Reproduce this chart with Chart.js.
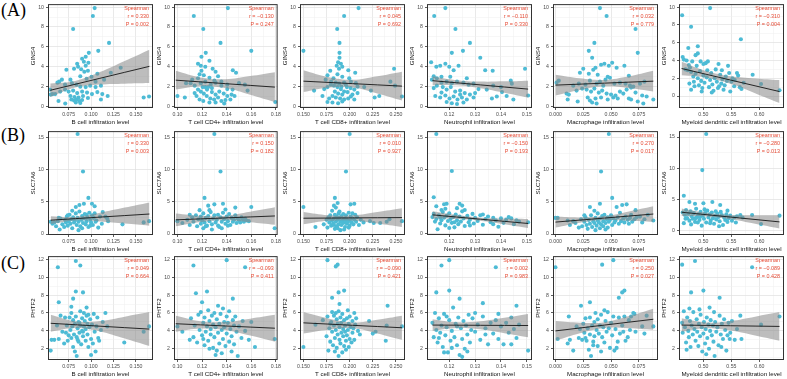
<!DOCTYPE html>
<html><head><meta charset="utf-8">
<script src="https://cdn.jsdelivr.net/npm/chart.js@4.4.1/dist/chart.umd.min.js"></script>
<style>
html,body{margin:0;padding:0;background:#fff}
#wrap{position:relative;width:787px;height:379px;overflow:hidden;background:#fff}
#wrap canvas{position:absolute}
.tag{position:absolute;font-family:"Liberation Serif","DejaVu Serif",serif;font-size:18px;color:#000;line-height:1}
</style></head><body>
<div id="wrap">
<div class="tag" style="left:1px;top:1px">(A)</div>
<div class="tag" style="left:1px;top:126px">(B)</div>
<div class="tag" style="left:1px;top:254px">(C)</div>
</div>
<script>
// ---------- categories / labels ----------
const genes = ['GINS4','SLC7A6','PHTF2'];
const cellTypes = ['B cell','T cell CD4+','T cell CD8+','Neutrophil','Macrophage','Myeloid dendritic cell'];
const method = 'Spearman';
const rGINS4  = ['0.330','\u22120.130','0.045','\u22120.110','0.032','\u22120.310'];
const pGINS4  = ['0.002','0.247','0.692','0.330','0.779','0.004'];
const rSLC7A6 = ['0.330','0.150','0.010','\u22120.150','0.270','\u22120.280'];
const pSLC7A6 = ['0.003','0.182','0.927','0.193','0.017','0.013'];
const rPHTF2  = ['0.049','\u22120.093','\u22120.090','0.002','0.250','\u22120.089'];
const pPHTF2  = ['0.664','0.411','0.421','0.983','0.027','0.428'];

// ---------- tick values ----------
const xMajorBcell = [0.075,0.100,0.125,0.150], xMinorBcell = [0.0625,0.0875,0.1125,0.1375,0.1625];
const xMajorCD4 = [0.10,0.12,0.14,0.16,0.18], xMinorCD4 = [0.11,0.13,0.15,0.17];
const xMajorCD8 = [0.150,0.175,0.200,0.225,0.250], xMinorCD8 = [0.1625,0.1875,0.2125,0.2375];
const xMajorNeut = [0.12,0.13,0.14,0.15], xMinorNeut = [0.115,0.125,0.135,0.145];
const xMajorMac = [0.000,0.025,0.050,0.075], xMinorMac = [0.0125,0.0375,0.0625,0.0875];
const xMajorMDC = [0.50,0.55,0.60], xMinorMDC = [0.475,0.525,0.575,0.625];
const yMajorGINS4 = [0,2,4,6,8,10], yMinorGINS4 = [-1,1,3,5,7,9];
const yMajorSLC7A6 = [0,5,10,15], yMinorSLC7A6 = [2.5,7.5,12.5];
const yMajorPHTF2 = [2,4,6,8,10,12], yMinorPHTF2 = [1,3,5,7,9,11];

// ---------- GINS4 points ----------
const gins4_bcell = [[0.104,9.9],[0.102,9.1],[0.080,7.8],[0.120,6.4],[0.108,5.6],[0.0975,5.4],[0.094,5.0],[0.090,4.8],[0.0845,4.3],[0.092,4.5],[0.097,4.4],[0.0855,4.0],[0.094,4.1],[0.0965,3.6],[0.089,3.75],[0.0925,3.5],[0.081,3.8],[0.0725,3.7],[0.122,3.4],[0.133,3.9],[0.107,3.3],[0.1005,3.0],[0.095,2.8],[0.088,3.05],[0.077,2.7],[0.0675,2.7],[0.0645,2.5],[0.0625,2.4],[0.071,2.2],[0.0787,2.35],[0.0837,2.2],[0.088,2.0],[0.094,1.95],[0.099,2.1],[0.105,1.95],[0.111,2.1],[0.0543,1.7],[0.055,1.2],[0.057,1.25],[0.060,1.25],[0.0656,1.5],[0.071,1.7],[0.075,1.5],[0.080,1.6],[0.0845,1.35],[0.090,1.5],[0.0955,1.4],[0.101,1.25],[0.107,1.45],[0.1125,1.25],[0.1185,1.05],[0.077,1.05],[0.0815,0.95],[0.086,0.9],[0.091,1.05],[0.0965,0.85],[0.078,0.7],[0.081,0.6],[0.084,0.7],[0.087,0.55],[0.090,0.65],[0.083,0.4],[0.088,0.35],[0.0712,0.3],[0.0637,0.55],[0.111,0.7],[0.1586,0.9],[0.1646,1.0],[0.105,2.5],[0.1145,2.7]];
const gins4_cd4 = [[0.1133,9.1],[0.141,9.9],[0.121,7.8],[0.135,6.4],[0.160,5.6],[0.123,5.4],[0.1195,5.0],[0.126,4.6],[0.1167,4.3],[0.119,4.1],[0.1226,4.0],[0.1286,3.8],[0.131,3.5],[0.145,3.65],[0.1476,3.4],[0.1195,3.6],[0.1214,3.15],[0.126,2.9],[0.1167,2.85],[0.112,2.7],[0.1107,2.35],[0.114,2.1],[0.119,2.35],[0.1226,1.95],[0.127,2.2],[0.131,2.4],[0.1357,2.5],[0.1405,2.2],[0.150,2.35],[0.1548,2.2],[0.157,1.6],[0.100,1.05],[0.106,0.9],[0.1155,1.05],[0.119,1.5],[0.1214,1.3],[0.124,1.7],[0.128,1.45],[0.131,1.2],[0.134,1.5],[0.1376,1.3],[0.1405,1.05],[0.144,1.2],[0.1238,1.05],[0.1267,0.8],[0.1298,0.7],[0.133,0.9],[0.1357,0.55],[0.139,0.65],[0.143,0.7],[0.131,0.4],[0.138,0.3],[0.121,0.55],[0.125,1.95],[0.130,2.6],[0.1405,1.75],[0.1448,1.7],[0.1167,1.7],[0.114,1.35],[0.1226,2.5],[0.118,3.25],[0.1795,0.45],[0.1205,1.95],[0.128,1.85],[0.1357,2.1],[0.118,0.7],[0.126,0.4],[0.1464,1.05],[0.107,2.35],[0.133,3.05]];
const gins4_cd8 = [[0.2096,9.9],[0.194,9.1],[0.1865,7.8],[0.189,6.4],[0.150,5.6],[0.189,5.4],[0.189,4.9],[0.1875,4.45],[0.1905,4.3],[0.186,4.1],[0.192,4.0],[0.179,3.6],[0.1885,3.8],[0.1985,3.65],[0.176,3.15],[0.206,3.4],[0.1868,3.25],[0.192,3.0],[0.1995,2.85],[0.248,3.8],[0.244,2.5],[0.249,2.1],[0.2565,1.0],[0.232,1.05],[0.227,0.9],[0.223,1.6],[0.2157,1.95],[0.2085,2.0],[0.205,1.7],[0.201,1.85],[0.197,1.95],[0.194,1.5],[0.1905,1.75],[0.1868,1.95],[0.183,2.1],[0.1796,2.2],[0.176,1.95],[0.1725,1.75],[0.1615,1.6],[0.174,2.7],[0.180,2.5],[0.185,2.4],[0.1886,2.3],[0.194,2.4],[0.2013,2.5],[0.2067,2.35],[0.184,1.5],[0.1875,1.3],[0.192,1.2],[0.1977,1.45],[0.203,1.2],[0.2085,1.35],[0.1814,1.05],[0.185,0.9],[0.1897,0.8],[0.194,0.7],[0.1984,0.8],[0.1778,0.8],[0.176,0.45],[0.1814,0.4],[0.1875,0.33],[0.192,0.5],[0.2013,1.0],[0.205,0.7],[0.1706,1.05],[0.191,2.0],[0.1958,2.2],[0.1825,2.85]];
const gins4_neut = [[0.1185,9.9],[0.1142,9.1],[0.1224,7.8],[0.128,6.4],[0.1253,5.6],[0.121,5.4],[0.132,4.9],[0.113,4.45],[0.1165,4.1],[0.115,4.0],[0.1185,4.3],[0.120,4.0],[0.1217,3.65],[0.1236,4.1],[0.1339,3.65],[0.1368,3.6],[0.1493,3.8],[0.1438,2.6],[0.1442,2.3],[0.114,3.05],[0.1133,2.7],[0.1152,2.85],[0.117,3.0],[0.117,2.4],[0.119,2.5],[0.121,2.35],[0.123,2.5],[0.1255,2.4],[0.1275,2.2],[0.1294,2.3],[0.1313,1.75],[0.1345,1.7],[0.137,2.1],[0.140,1.95],[0.1404,1.45],[0.1384,1.0],[0.1422,1.05],[0.1448,0.7],[0.1505,1.1],[0.114,1.85],[0.1152,2.1],[0.1175,1.95],[0.119,1.7],[0.1206,1.95],[0.1223,1.5],[0.1242,1.6],[0.126,1.35],[0.128,1.2],[0.130,1.35],[0.1146,1.05],[0.1165,0.9],[0.1185,1.1],[0.1201,0.8],[0.1217,1.0],[0.1232,0.7],[0.1249,0.9],[0.1268,0.7],[0.1294,0.9],[0.119,0.45],[0.121,0.33],[0.123,0.25],[0.1255,0.4],[0.1365,0.8],[0.117,1.4],[0.1242,1.2],[0.1204,3.0],[0.1268,2.85]];
const gins4_mac = [[0.040,9.9],[0.046,9.1],[0.072,7.8],[0.035,6.4],[0.030,5.6],[0.074,5.4],[0.033,4.9],[0.022,3.4],[0.025,3.8],[0.034,3.7],[0.036,3.9],[0.041,4.2],[0.044,4.3],[0.048,4.1],[0.051,4.4],[0.055,3.9],[0.062,4.1],[0.066,3.1],[0.047,3.0],[0.049,2.9],[0.038,3.2],[0.030,3.3],[0.001,2.4],[0.003,2.6],[0.016,2.1],[0.021,2.3],[0.027,2.2],[0.031,2.6],[0.037,2.3],[0.040,2.5],[0.043,2.1],[0.053,2.3],[0.058,2.4],[0.063,2.3],[0.067,2.1],[0.070,2.0],[0.076,2.3],[0.080,2.5],[0.045,2.7],[0.010,1.3],[0.012,1.2],[0.019,1.6],[0.024,1.8],[0.028,1.7],[0.032,1.5],[0.035,1.8],[0.039,1.4],[0.042,1.6],[0.046,1.3],[0.050,1.2],[0.054,1.1],[0.058,1.5],[0.061,1.3],[0.064,1.7],[0.068,1.9],[0.072,1.4],[0.078,1.1],[0.082,1.0],[0.011,0.7],[0.020,0.5],[0.029,0.9],[0.031,0.6],[0.033,0.4],[0.036,0.8],[0.037,0.3],[0.041,0.9],[0.047,0.7],[0.052,0.9],[0.056,0.8],[0.066,0.8],[0.068,0.7],[0.079,0.3],[0.088,0.7],[0.074,0.5]];
const gins4_mdc = [[0.462,9.1],[0.512,9.9],[0.478,7.8],[0.567,6.4],[0.473,5.4],[0.490,5.6],[0.486,4.6],[0.463,4.4],[0.465,4.1],[0.468,3.0],[0.470,4.0],[0.472,2.9],[0.474,3.5],[0.476,3.2],[0.478,2.7],[0.480,3.9],[0.482,2.2],[0.475,1.4],[0.478,0.7],[0.483,1.6],[0.486,2.5],[0.488,3.4],[0.490,2.0],[0.492,1.2],[0.494,2.8],[0.496,1.7],[0.498,0.9],[0.500,2.3],[0.502,1.5],[0.504,3.7],[0.506,2.1],[0.508,3.9],[0.510,1.0],[0.512,1.8],[0.514,2.6],[0.516,1.3],[0.518,0.6],[0.520,2.0],[0.522,3.0],[0.524,1.6],[0.526,0.9],[0.528,1.1],[0.530,2.4],[0.532,1.4],[0.534,1.9],[0.536,0.7],[0.538,1.2],[0.540,2.2],[0.542,1.7],[0.544,3.4],[0.546,2.6],[0.548,0.5],[0.550,1.6],[0.552,2.0],[0.556,1.8],[0.560,2.6],[0.562,2.3],[0.565,1.0],[0.568,0.8],[0.572,1.5],[0.588,2.4],[0.603,1.35],[0.636,0.65],[0.490,4.8],[0.495,3.9],[0.500,3.6],[0.484,1.1],[0.497,0.5],[0.507,2.9],[0.527,3.6],[0.515,0.4],[0.533,2.9],[0.555,1.1]];

// ---------- SLC7A6 points ----------
const slc7a6_bcell = [[0.085,15.5],[0.091,9.7],[0.097,5.6],[0.092,4.7],[0.087,4.5],[0.101,4.7],[0.104,4.3],[0.083,4.2],[0.055,1.9],[0.057,1.6],[0.059,1.8],[0.061,1.2],[0.063,2.0],[0.064,2.5],[0.065,0.7],[0.066,2.4],[0.068,1.5],[0.070,1.1],[0.071,2.2],[0.072,1.8],[0.073,2.7],[0.074,1.3],[0.075,2.0],[0.076,3.0],[0.077,1.6],[0.078,2.3],[0.079,0.9],[0.080,2.6],[0.081,1.8],[0.082,2.1],[0.083,3.2],[0.084,1.4],[0.085,2.5],[0.086,1.9],[0.087,3.5],[0.088,1.2],[0.089,2.2],[0.090,2.8],[0.091,1.7],[0.092,2.4],[0.093,3.1],[0.094,1.5],[0.095,2.0],[0.096,2.6],[0.097,1.1],[0.098,3.3],[0.099,2.2],[0.100,1.8],[0.101,2.9],[0.102,1.4],[0.103,2.5],[0.104,3.2],[0.105,1.9],[0.106,2.1],[0.108,1.0],[0.110,2.7],[0.112,1.6],[0.113,3.4],[0.116,2.7],[0.118,2.4],[0.119,2.0],[0.135,1.5],[0.1586,1.8],[0.1646,2.0],[0.086,0.6],[0.090,0.9],[0.079,3.6],[0.095,3.0],[0.074,2.9],[0.099,1.3]];
const slc7a6_cd4 = [[0.130,15.5],[0.135,9.7],[0.122,5.6],[0.130,4.6],[0.137,4.7],[0.147,4.1],[0.160,4.2],[0.125,4.4],[0.118,3.7],[0.100,2.0],[0.104,1.7],[0.108,2.2],[0.110,1.4],[0.112,2.6],[0.113,1.9],[0.115,2.9],[0.116,1.2],[0.117,2.3],[0.119,1.6],[0.120,2.1],[0.121,3.2],[0.122,1.8],[0.123,2.5],[0.124,1.3],[0.125,2.8],[0.126,2.0],[0.127,3.4],[0.128,1.5],[0.129,2.4],[0.130,2.9],[0.131,1.8],[0.132,2.2],[0.133,3.0],[0.134,1.1],[0.135,2.6],[0.136,1.9],[0.137,3.3],[0.138,2.3],[0.139,1.6],[0.140,2.7],[0.141,2.0],[0.142,3.1],[0.143,1.4],[0.144,2.5],[0.145,1.9],[0.146,2.2],[0.147,2.9],[0.148,1.7],[0.149,2.4],[0.150,2.1],[0.151,1.8],[0.152,2.6],[0.153,2.3],[0.154,1.9],[0.155,2.4],[0.156,2.1],[0.121,0.9],[0.128,0.7],[0.133,1.3],[0.126,3.7],[0.119,2.7],[0.139,3.8],[0.110,3.0],[0.123,1.2],[0.141,1.3],[0.136,0.9],[0.158,2.0],[0.179,0.9]];
const slc7a6_cd8 = [[0.200,15.5],[0.196,9.7],[0.184,5.6],[0.183,4.4],[0.187,4.8],[0.185,4.1],[0.201,4.6],[0.205,4.7],[0.150,4.2],[0.163,1.1],[0.172,1.5],[0.175,2.2],[0.176,1.0],[0.177,2.6],[0.178,1.8],[0.179,2.9],[0.180,1.3],[0.181,3.6],[0.181,2.1],[0.182,1.6],[0.183,2.4],[0.184,0.8],[0.184,3.0],[0.185,1.9],[0.186,2.7],[0.186,1.2],[0.187,2.2],[0.188,3.2],[0.188,1.5],[0.189,2.5],[0.190,1.9],[0.190,0.6],[0.191,2.8],[0.191,1.4],[0.192,2.1],[0.193,3.1],[0.193,1.7],[0.194,2.4],[0.195,1.1],[0.195,2.0],[0.196,2.9],[0.197,1.6],[0.197,2.3],[0.198,1.9],[0.199,3.3],[0.200,2.1],[0.200,1.3],[0.201,2.7],[0.202,1.8],[0.203,2.4],[0.204,1.5],[0.205,2.2],[0.206,3.0],[0.207,1.9],[0.208,2.6],[0.210,1.4],[0.212,2.2],[0.215,1.8],[0.222,2.0],[0.226,1.7],[0.233,1.7],[0.240,1.9],[0.243,2.3],[0.2565,2.0],[0.187,0.9],[0.194,0.7],[0.183,1.4],[0.199,1.0],[0.178,2.4],[0.189,3.5],[0.203,3.2]];
const slc7a6_neut = [[0.115,15.5],[0.121,9.7],[0.114,5.6],[0.118,4.5],[0.119,4.6],[0.124,4.6],[0.125,4.3],[0.123,3.9],[0.1135,2.5],[0.114,3.0],[0.1145,1.8],[0.115,2.2],[0.1155,0.6],[0.116,2.8],[0.1165,1.5],[0.117,2.0],[0.1175,3.3],[0.118,2.4],[0.1185,1.2],[0.119,2.7],[0.1195,1.9],[0.120,3.1],[0.1205,2.2],[0.121,1.6],[0.1215,2.5],[0.122,0.9],[0.1225,2.9],[0.123,2.0],[0.1235,1.4],[0.124,2.6],[0.1245,1.8],[0.125,3.4],[0.1255,2.3],[0.126,1.1],[0.127,2.7],[0.1275,1.7],[0.128,2.1],[0.129,3.0],[0.1295,1.5],[0.130,2.4],[0.131,1.9],[0.132,2.8],[0.133,1.3],[0.134,2.2],[0.135,2.6],[0.136,1.7],[0.137,2.4],[0.138,2.0],[0.139,1.0],[0.140,2.3],[0.141,1.6],[0.142,2.1],[0.143,2.5],[0.144,2.3],[0.145,1.4],[0.146,2.0],[0.147,1.8],[0.1505,1.7],[0.115,4.2],[0.117,3.6],[0.120,0.8],[0.126,3.6],[0.122,1.7],[0.1185,3.8],[0.128,1.2],[0.133,2.9],[0.137,1.4],[0.1165,2.4]];
const slc7a6_mac = [[0.048,15.5],[0.041,9.7],[0.051,5.6],[0.040,4.7],[0.031,4.2],[0.055,4.2],[0.060,4.5],[0.064,4.6],[0.072,3.7],[0.083,3.0],[0.000,2.5],[0.002,2.5],[0.011,2.1],[0.013,1.4],[0.016,2.0],[0.018,1.7],[0.021,1.0],[0.023,2.3],[0.024,1.2],[0.026,1.9],[0.027,2.6],[0.028,1.4],[0.029,0.8],[0.030,2.2],[0.031,1.6],[0.032,2.9],[0.033,1.1],[0.034,2.0],[0.035,1.7],[0.036,0.6],[0.036,2.5],[0.037,1.3],[0.038,2.1],[0.038,3.2],[0.039,1.8],[0.040,0.9],[0.040,2.4],[0.041,1.5],[0.042,2.8],[0.043,1.2],[0.043,2.0],[0.044,3.0],[0.045,1.7],[0.046,2.3],[0.047,1.0],[0.047,2.6],[0.048,1.9],[0.049,2.2],[0.050,2.9],[0.051,1.4],[0.052,2.4],[0.053,1.8],[0.054,2.1],[0.056,2.6],[0.057,1.6],[0.058,3.3],[0.059,2.0],[0.061,2.4],[0.062,1.8],[0.063,2.7],[0.065,2.2],[0.066,1.6],[0.067,2.5],[0.068,3.0],[0.069,1.9],[0.071,2.3],[0.073,2.6],[0.076,2.7],[0.078,1.8],[0.080,2.3],[0.088,2.1],[0.035,3.6],[0.045,0.7],[0.026,2.9]];
const slc7a6_mdc = [[0.505,15.5],[0.498,9.7],[0.465,5.6],[0.475,4.6],[0.485,4.3],[0.500,4.4],[0.516,4.6],[0.530,4.1],[0.463,2.9],[0.465,1.2],[0.467,2.5],[0.469,3.3],[0.471,2.0],[0.473,2.7],[0.475,1.6],[0.477,3.1],[0.479,2.3],[0.481,1.9],[0.483,2.8],[0.485,1.4],[0.487,3.5],[0.489,2.2],[0.491,2.6],[0.493,1.7],[0.495,3.0],[0.497,0.8],[0.499,2.4],[0.501,1.9],[0.503,2.8],[0.505,1.3],[0.507,3.2],[0.509,2.1],[0.511,2.6],[0.513,1.6],[0.515,2.9],[0.517,2.0],[0.519,1.1],[0.521,2.4],[0.523,1.8],[0.525,2.7],[0.527,2.2],[0.529,1.5],[0.531,3.0],[0.533,2.5],[0.535,0.9],[0.537,2.1],[0.539,1.7],[0.541,2.6],[0.543,1.4],[0.545,2.0],[0.548,2.4],[0.551,1.6],[0.555,2.1],[0.560,2.3],[0.566,2.5],[0.570,2.1],[0.587,2.5],[0.603,1.05],[0.636,2.4],[0.468,1.9],[0.478,1.0],[0.486,2.0],[0.494,2.2],[0.502,3.4],[0.512,1.2],[0.522,3.1],[0.543,3.2],[0.558,1.3],[0.490,1.3],[0.528,0.7]];

// ---------- PHTF2 points ----------
const phtf2_bcell = [[0.083,11.8],[0.063,11.1],[0.088,11.3],[0.083,8.4],[0.091,8.3],[0.080,7.6],[0.064,7.2],[0.078,6.7],[0.095,6.6],[0.055,1.8],[0.056,3.0],[0.059,3.0],[0.062,4.6],[0.064,3.1],[0.066,5.7],[0.068,3.9],[0.070,2.6],[0.071,5.5],[0.072,3.8],[0.073,4.6],[0.074,2.9],[0.075,3.5],[0.076,5.5],[0.077,4.1],[0.078,3.2],[0.078,6.0],[0.079,4.5],[0.080,2.2],[0.080,5.2],[0.081,3.6],[0.082,4.8],[0.082,1.7],[0.083,5.6],[0.084,3.3],[0.084,1.2],[0.085,4.3],[0.086,5.0],[0.086,2.8],[0.087,3.8],[0.088,4.6],[0.088,6.2],[0.089,2.5],[0.090,4.0],[0.090,5.4],[0.091,3.4],[0.092,4.5],[0.092,6.0],[0.093,5.1],[0.094,2.9],[0.094,4.2],[0.095,5.7],[0.096,3.6],[0.096,4.8],[0.097,2.2],[0.098,4.4],[0.099,5.3],[0.100,3.1],[0.101,4.7],[0.102,2.6],[0.103,5.9],[0.104,3.9],[0.105,1.7],[0.106,4.5],[0.107,5.5],[0.108,3.2],[0.109,2.9],[0.111,4.1],[0.113,5.0],[0.116,6.0],[0.118,4.5],[0.137,2.7],[0.1586,3.9],[0.1646,4.5],[0.087,4.9],[0.091,3.9],[0.097,5.8],[0.085,3.0],[0.100,1.3]];
const phtf2_cd4 = [[0.140,11.9],[0.113,11.3],[0.155,11.1],[0.115,8.2],[0.124,8.4],[0.145,7.6],[0.120,7.2],[0.133,6.8],[0.100,4.5],[0.104,3.9],[0.110,3.0],[0.111,5.4],[0.113,3.3],[0.114,4.6],[0.116,2.7],[0.117,5.8],[0.118,4.1],[0.119,6.1],[0.120,3.5],[0.121,4.9],[0.122,2.4],[0.122,5.5],[0.123,3.9],[0.124,4.5],[0.125,6.3],[0.125,2.9],[0.126,5.1],[0.127,3.6],[0.127,4.2],[0.128,5.7],[0.129,2.1],[0.129,4.7],[0.130,3.3],[0.130,6.0],[0.131,4.4],[0.132,1.8],[0.132,5.3],[0.133,3.8],[0.134,4.8],[0.134,2.6],[0.135,5.9],[0.136,4.1],[0.136,1.5],[0.137,3.1],[0.138,5.0],[0.138,4.4],[0.139,2.3],[0.140,5.6],[0.140,3.7],[0.141,4.9],[0.142,2.8],[0.142,6.2],[0.143,4.2],[0.144,3.4],[0.145,5.2],[0.146,2.5],[0.146,4.6],[0.147,5.6],[0.148,3.9],[0.149,1.2],[0.150,4.5],[0.152,3.2],[0.153,5.1],[0.155,4.0],[0.158,3.0],[0.160,5.0],[0.163,2.2],[0.179,3.1],[0.131,1.3],[0.126,2.0],[0.144,1.7],[0.121,3.1],[0.137,6.5]];
const phtf2_cd8 = [[0.176,11.9],[0.185,11.2],[0.187,11.4],[0.188,8.3],[0.194,8.5],[0.181,7.7],[0.189,7.0],[0.241,6.8],[0.150,2.2],[0.163,4.7],[0.171,5.2],[0.175,3.4],[0.176,5.6],[0.177,1.8],[0.178,4.3],[0.179,2.8],[0.180,5.0],[0.181,3.9],[0.181,6.1],[0.182,2.4],[0.183,4.6],[0.183,5.7],[0.184,3.2],[0.185,4.1],[0.185,6.0],[0.186,2.1],[0.186,5.3],[0.187,3.6],[0.187,4.8],[0.188,1.2],[0.188,6.2],[0.189,3.0],[0.189,4.4],[0.190,5.5],[0.190,2.6],[0.191,3.8],[0.191,4.9],[0.192,1.6],[0.192,5.9],[0.193,3.4],[0.193,4.2],[0.194,2.3],[0.194,5.2],[0.195,3.9],[0.195,4.6],[0.196,2.9],[0.197,5.4],[0.197,3.5],[0.198,4.1],[0.199,2.2],[0.199,4.8],[0.200,3.1],[0.200,5.6],[0.201,4.4],[0.202,2.7],[0.203,3.8],[0.203,5.1],[0.204,4.3],[0.205,3.0],[0.206,4.7],[0.207,5.4],[0.209,4.0],[0.211,3.6],[0.221,5.1],[0.225,3.7],[0.228,3.9],[0.239,2.9],[0.240,4.6],[0.2565,4.5],[0.184,1.7],[0.196,1.9],[0.205,6.0],[0.179,4.8],[0.198,6.3]];
const phtf2_neut = [[0.120,11.9],[0.117,11.3],[0.138,11.1],[0.115,8.3],[0.120,8.5],[0.124,7.6],[0.133,7.1],[0.146,6.8],[0.1135,4.9],[0.114,3.3],[0.1145,6.0],[0.115,4.1],[0.1155,2.7],[0.116,5.4],[0.1165,3.8],[0.117,4.6],[0.1175,2.2],[0.118,5.9],[0.1185,3.5],[0.119,4.4],[0.1195,1.6],[0.120,5.2],[0.1205,2.9],[0.121,4.0],[0.1215,6.6],[0.122,3.3],[0.1225,4.8],[0.123,2.4],[0.1235,5.5],[0.124,1.3],[0.1245,4.3],[0.125,3.1],[0.1255,5.1],[0.126,2.0],[0.1265,4.6],[0.127,3.6],[0.1275,5.8],[0.128,2.7],[0.1285,4.1],[0.129,5.4],[0.130,3.9],[0.131,4.7],[0.132,3.0],[0.133,5.6],[0.134,4.3],[0.135,2.5],[0.136,4.9],[0.137,3.7],[0.138,5.2],[0.139,3.1],[0.140,4.5],[0.141,2.5],[0.142,4.9],[0.143,3.8],[0.144,5.5],[0.145,4.2],[0.146,3.2],[0.147,4.7],[0.1505,1.8],[0.118,1.6],[0.121,2.1],[0.125,1.1],[0.116,3.2],[0.119,5.6],[0.123,4.5],[0.127,1.7],[0.130,6.0],[0.134,3.6],[0.139,5.9],[0.144,2.5]];
const phtf2_mac = [[0.000,11.1],[0.042,11.4],[0.052,11.9],[0.060,8.3],[0.062,8.5],[0.057,7.7],[0.031,7.2],[0.023,6.8],[0.002,3.1],[0.011,2.6],[0.012,5.6],[0.013,3.0],[0.016,1.8],[0.019,4.5],[0.021,3.2],[0.022,4.2],[0.024,3.0],[0.025,4.8],[0.026,3.8],[0.027,5.4],[0.028,2.9],[0.029,4.3],[0.030,1.9],[0.031,3.6],[0.031,5.5],[0.032,1.2],[0.033,4.6],[0.034,2.8],[0.035,5.0],[0.035,3.4],[0.036,6.0],[0.037,4.1],[0.038,2.3],[0.038,5.3],[0.039,3.7],[0.040,4.6],[0.041,1.7],[0.041,5.8],[0.042,3.3],[0.043,4.4],[0.044,2.7],[0.045,5.1],[0.046,3.9],[0.047,6.1],[0.048,4.3],[0.049,2.1],[0.050,4.9],[0.051,3.5],[0.052,5.6],[0.053,1.8],[0.054,4.2],[0.056,2.8],[0.057,5.5],[0.058,3.7],[0.060,4.6],[0.062,5.6],[0.063,2.9],[0.065,3.3],[0.066,5.2],[0.067,4.1],[0.068,5.6],[0.070,6.0],[0.071,5.9],[0.072,3.9],[0.078,4.5],[0.080,3.7],[0.082,5.7],[0.088,4.5],[0.027,3.2],[0.044,6.3],[0.034,2.4],[0.055,2.1],[0.061,3.9]];
const phtf2_mdc = [[0.462,11.4],[0.485,11.8],[0.587,11.1],[0.478,8.3],[0.500,8.5],[0.529,7.7],[0.511,6.6],[0.475,6.5],[0.462,4.9],[0.463,3.8],[0.465,6.2],[0.467,4.4],[0.469,2.7],[0.471,5.5],[0.473,4.0],[0.474,3.3],[0.476,5.1],[0.477,2.2],[0.479,4.6],[0.481,3.6],[0.482,6.1],[0.484,4.2],[0.486,2.9],[0.488,5.3],[0.489,3.9],[0.491,2.3],[0.492,4.8],[0.494,3.4],[0.495,5.8],[0.497,4.4],[0.498,1.7],[0.500,3.7],[0.501,5.0],[0.503,2.6],[0.504,4.2],[0.506,5.5],[0.507,3.2],[0.509,4.7],[0.510,2.0],[0.512,4.0],[0.513,5.2],[0.515,3.5],[0.517,4.6],[0.518,2.8],[0.520,1.2],[0.521,5.0],[0.523,3.9],[0.525,4.4],[0.527,2.4],[0.529,5.7],[0.531,3.6],[0.533,4.8],[0.535,3.1],[0.537,5.3],[0.539,4.1],[0.541,1.8],[0.543,3.5],[0.545,4.9],[0.548,3.8],[0.551,5.1],[0.556,3.0],[0.560,4.2],[0.566,5.7],[0.568,3.1],[0.603,4.7],[0.636,5.6],[0.470,1.9],[0.493,6.4],[0.505,1.4],[0.519,6.1],[0.532,2.2],[0.547,3.1]];

// ---------- fitted line and 95% band: [x, lower, fit, upper] ----------
const band_gins4_bcell = [[0.0545,0.95,1.63,2.31],[0.0821,1.90,2.23,2.56],[0.1098,2.21,2.835,3.46],[0.1374,2.30,3.44,4.58],[0.165,2.36,4.04,5.72]];
const band_gins4_cd4 = [[0.0986,1.70,2.65,3.60],[0.1188,2.03,2.475,2.92],[0.1389,1.86,2.30,2.74],[0.1591,1.19,2.125,3.06],[0.1792,0.45,1.95,3.45]];
const band_gins4_cd8 = [[0.150,1.45,2.55,3.65],[0.1766,1.88,2.425,2.97],[0.2033,1.92,2.30,2.68],[0.2299,1.31,2.175,3.04],[0.2565,0.60,2.05,3.50]];
const band_gins4_neut = [[0.1135,2.15,2.60,3.05],[0.1228,2.13,2.3875,2.65],[0.1320,1.84,2.175,2.51],[0.1413,1.39,1.9625,2.53],[0.1505,0.90,1.75,2.60]];
const band_gins4_mac = [[0,1.10,2.15,3.20],[0.022,1.66,2.25,2.84],[0.044,2.03,2.35,2.67],[0.066,1.86,2.45,3.04],[0.088,1.50,2.55,3.60]];
const band_gins4_mdc = [[0.461,2.35,3.10,3.85],[0.50475,2.09,2.45,2.81],[0.5485,1.38,1.80,2.22],[0.59225,0.32,1.15,1.98],[0.636,-0.80,0.50,1.80]];
const band_slc7a6_bcell = [[0.055,1.55,2.15,2.75],[0.0825,2.10,2.3875,2.67],[0.11,1.94,2.625,3.31],[0.1375,1.63,2.8625,4.10],[0.165,1.30,3.10,4.90]];
const band_slc7a6_cd4 = [[0.0986,1.20,2.20,3.20],[0.1188,1.86,2.35,2.84],[0.1389,2.15,2.50,2.85],[0.1591,1.84,2.65,3.46],[0.1792,1.45,2.80,4.15]];
const band_slc7a6_cd8 = [[0.150,1.50,2.45,3.40],[0.1766,2.04,2.475,2.91],[0.2033,2.10,2.50,2.90],[0.2299,1.63,2.525,3.42],[0.2565,1.10,2.55,4.00]];
const band_slc7a6_neut = [[0.1135,2.30,2.85,3.40],[0.1228,2.21,2.5125,2.82],[0.1320,1.94,2.175,2.41],[0.1413,1.40,1.8375,2.27],[0.1505,0.80,1.50,2.20]];
const band_slc7a6_mac = [[0,1.00,1.85,2.70],[0.022,1.76,2.1625,2.57],[0.044,2.17,2.475,2.78],[0.066,2.07,2.7875,3.51],[0.088,1.90,3.10,4.30]];
const band_slc7a6_mdc = [[0.461,2.35,2.95,3.55],[0.50475,2.27,2.5625,2.86],[0.5485,1.83,2.175,2.52],[0.59225,1.11,1.7875,2.47],[0.636,0.35,1.40,2.45]];
const band_phtf2_bcell = [[0.055,3.90,4.85,5.80],[0.0825,4.31,4.6875,5.07],[0.11,3.94,4.525,5.11],[0.1375,3.14,4.3625,5.59],[0.165,2.30,4.20,6.10]];
const band_phtf2_cd4 = [[0.0986,3.90,4.80,5.70],[0.1188,4.26,4.675,5.09],[0.1389,4.10,4.55,5.00],[0.1591,3.48,4.425,5.37],[0.1792,2.80,4.30,5.80]];
const band_phtf2_cd8 = [[0.150,3.70,4.90,6.10],[0.1766,4.13,4.7625,5.39],[0.2033,4.30,4.625,4.95],[0.2299,3.72,4.4875,5.25],[0.2565,3.00,4.35,5.70]];
const band_phtf2_neut = [[0.1135,4.00,4.65,5.30],[0.1228,4.32,4.6375,4.96],[0.1320,4.17,4.625,5.08],[0.1413,3.75,4.6125,5.47],[0.1505,3.30,4.60,5.90]];
const band_phtf2_mac = [[0,2.90,4.00,5.10],[0.022,3.73,4.325,4.92],[0.044,4.33,4.65,4.97],[0.066,4.30,4.975,5.65],[0.088,4.12,5.30,6.48]];
const band_phtf2_mdc = [[0.461,3.90,4.65,5.40],[0.50475,4.29,4.6125,4.94],[0.5485,4.04,4.575,5.11],[0.59225,3.49,4.5375,5.59],[0.636,2.90,4.50,6.10]];

// ---------- assemble ----------
const points = [
  [gins4_bcell,gins4_cd4,gins4_cd8,gins4_neut,gins4_mac,gins4_mdc],
  [slc7a6_bcell,slc7a6_cd4,slc7a6_cd8,slc7a6_neut,slc7a6_mac,slc7a6_mdc],
  [phtf2_bcell,phtf2_cd4,phtf2_cd8,phtf2_neut,phtf2_mac,phtf2_mdc]];
const bands = [
  [band_gins4_bcell,band_gins4_cd4,band_gins4_cd8,band_gins4_neut,band_gins4_mac,band_gins4_mdc],
  [band_slc7a6_bcell,band_slc7a6_cd4,band_slc7a6_cd8,band_slc7a6_neut,band_slc7a6_mac,band_slc7a6_mdc],
  [band_phtf2_bcell,band_phtf2_cd4,band_phtf2_cd8,band_phtf2_neut,band_phtf2_mac,band_phtf2_mdc]];
const rVals = [rGINS4,rSLC7A6,rPHTF2], pVals = [pGINS4,pSLC7A6,pPHTF2];
const xMajors = [xMajorBcell,xMajorCD4,xMajorCD8,xMajorNeut,xMajorMac,xMajorMDC];
const xMinors = [xMinorBcell,xMinorCD4,xMinorCD8,xMinorNeut,xMinorMac,xMinorMDC];
const yMajors = [yMajorGINS4,yMajorSLC7A6,yMajorPHTF2];
const yMinors = [yMinorGINS4,yMinorSLC7A6,yMinorPHTF2];

// ---------- axis limits and layout (presentation) ----------
const xLimits = [[0.052,0.169],[0.0972,0.1814],[0.1463,0.2598],[0.1114,0.152],[-0.0022,0.0922],[0.4564,0.644]];
const yLimits = [
  [[-0.15,10.3],[-0.15,10.3],[-0.15,10.3],[-0.15,10.3],[-0.15,10.3],[-1.35,10.35]],
  [[-0.15,15.95],[-0.15,15.95],[-0.15,15.95],[-0.3,15.95],[-0.15,15.95],[-0.7,15.95]],
  [[0.75,12.35],[0.75,12.35],[0.75,12.35],[0.75,12.35],[0.75,12.35],[0.75,12.35]]];
const xDecimals = [3,2,3,2,3,2];
const PLOT_LEFT = [48,174,300,427,553,679], PLOT_TOP = [3,130,255];
const AXW = 24, PADT = 4, PADR = 3, PLOT = 105, AXH = 22;

Chart.defaults.font.family = '"Liberation Sans", Arial, Helvetica, sans-serif';
const isMaj = (arr, v) => arr.some(m => Math.abs(m - v) < 1e-9);

const framePlugin = {id:'frame', afterDatasetsDraw(ch){
  const a = ch.chartArea, c = ch.ctx; c.save(); c.strokeStyle = '#333'; c.lineWidth = 1;
  c.strokeRect(a.left + 0.5, a.top + 0.5, a.right - a.left - 1, a.bottom - a.top - 1); c.restore(); }};
const annotPlugin = {id:'annot', afterDatasetsDraw(ch, args, opts){
  const a = ch.chartArea, c = ch.ctx; c.save(); c.font = '5.4px "Liberation Sans", Arial, sans-serif';
  c.fillStyle = '#E64B35'; c.textAlign = 'right'; c.textBaseline = 'middle';
  (opts.lines || []).forEach((t, i) => c.fillText(t, a.right - 4, a.top + 4 + i * 8.3)); c.restore(); }};

const wrap = document.getElementById('wrap');
function makePanel(row, col){
  const cv = document.createElement('canvas');
  cv.width = AXW + PLOT + PADR; cv.height = PADT + PLOT + AXH;
  cv.style.left = (PLOT_LEFT[col] - AXW) + 'px'; cv.style.top = (PLOT_TOP[row] - PADT) + 'px';
  wrap.appendChild(cv);
  const [x0, x1] = xLimits[col], [y0, y1] = yLimits[row][col];
  const xMj = xMajors[col], yMj = yMajors[row];
  const xT = xMinors[col].concat(xMj).filter(v => v >= x0 && v <= x1).sort((a, b) => a - b);
  const yT = yMinors[row].concat(yMj).filter(v => v >= y0 && v <= y1).sort((a, b) => a - b);
  const band = bands[row][col];
  const gridOpts = (maj) => ({
    color: c => (c.tick && isMaj(maj, c.tick.value)) ? '#E0E0E0' : '#EEEEEE',
    lineWidth: c => (c.tick && isMaj(maj, c.tick.value)) ? 0.7 : 0.5,
    tickColor: c => (c.tick && isMaj(maj, c.tick.value)) ? '#333' : 'rgba(0,0,0,0)',
    tickLength: 2, tickWidth: 0.8, drawTicks: true
  });
  new Chart(cv, {
    type: 'scatter',
    data: {datasets: [
      {type:'scatter', data: points[row][col].map(p => ({x:p[0], y:p[1]})), pointRadius:2.05, pointHoverRadius:2.05,
        backgroundColor:'#4DBBD5', borderWidth:0, order:4},
      {type:'line', data: band.map(b => ({x:b[0], y:b[1]})), borderColor:'rgba(0,0,0,0)', borderWidth:0.01,
        pointRadius:0, tension:0.4, fill:false, order:3},
      {type:'line', data: band.map(b => ({x:b[0], y:b[3]})), borderColor:'rgba(0,0,0,0)', borderWidth:0.01,
        pointRadius:0, tension:0.4, fill:'-1', backgroundColor:'rgba(135,135,135,0.55)', order:2},
      {type:'line', data: band.map(b => ({x:b[0], y:b[2]})), borderColor:'#151515', borderWidth:0.9,
        pointRadius:0, tension:0, fill:false, order:1}
    ]},
    options: {
      responsive:false, animation:false, events:[],
      layout:{padding:{top:PADT, right:PADR, left:0, bottom:0}},
      plugins:{legend:{display:false}, tooltip:{enabled:false},
        annot:{lines:[method, 'r = ' + rVals[row][col], 'P = ' + pVals[row][col]]}},
      scales:{
        x:{type:'linear', position:'bottom', min:x0, max:x1,
          afterBuildTicks: s => { s.ticks = xT.map(v => ({value:v})); },
          afterFit: s => { s.height = AXH; },
          ticks:{autoSkip:false, maxRotation:0, minRotation:0, padding:1, color:'#4D4D4D', font:{size:5.2},
            callback: v => isMaj(xMj, v) ? Number(v).toFixed(xDecimals[col]) : ''},
          grid: gridOpts(xMj), border:{display:false},
          title:{display:true, text: cellTypes[col] + ' infiltration level', color:'#111', font:{size:6.2},
            padding:{top:0, bottom:3.7}}},
        y:{type:'linear', position:'left', min:y0, max:y1,
          afterBuildTicks: s => { s.ticks = yT.map(v => ({value:v})); },
          afterFit: s => { s.width = AXW; },
          ticks:{autoSkip:false, padding:2, color:'#4D4D4D', font:{size:5.2},
            callback: v => isMaj(yMj, v) ? String(v) : ''},
          grid: gridOpts(yMj), border:{display:false},
          title:{display:true, text: genes[row], color:'#111', font:{size:6.2}, padding:{top:5.3, bottom:0}}}
      }
    },
    plugins:[framePlugin, annotPlugin]
  });
}
for (let r = 0; r < 3; r++) for (let c = 0; c < 6; c++) makePanel(r, c);
</script>
</body></html>
